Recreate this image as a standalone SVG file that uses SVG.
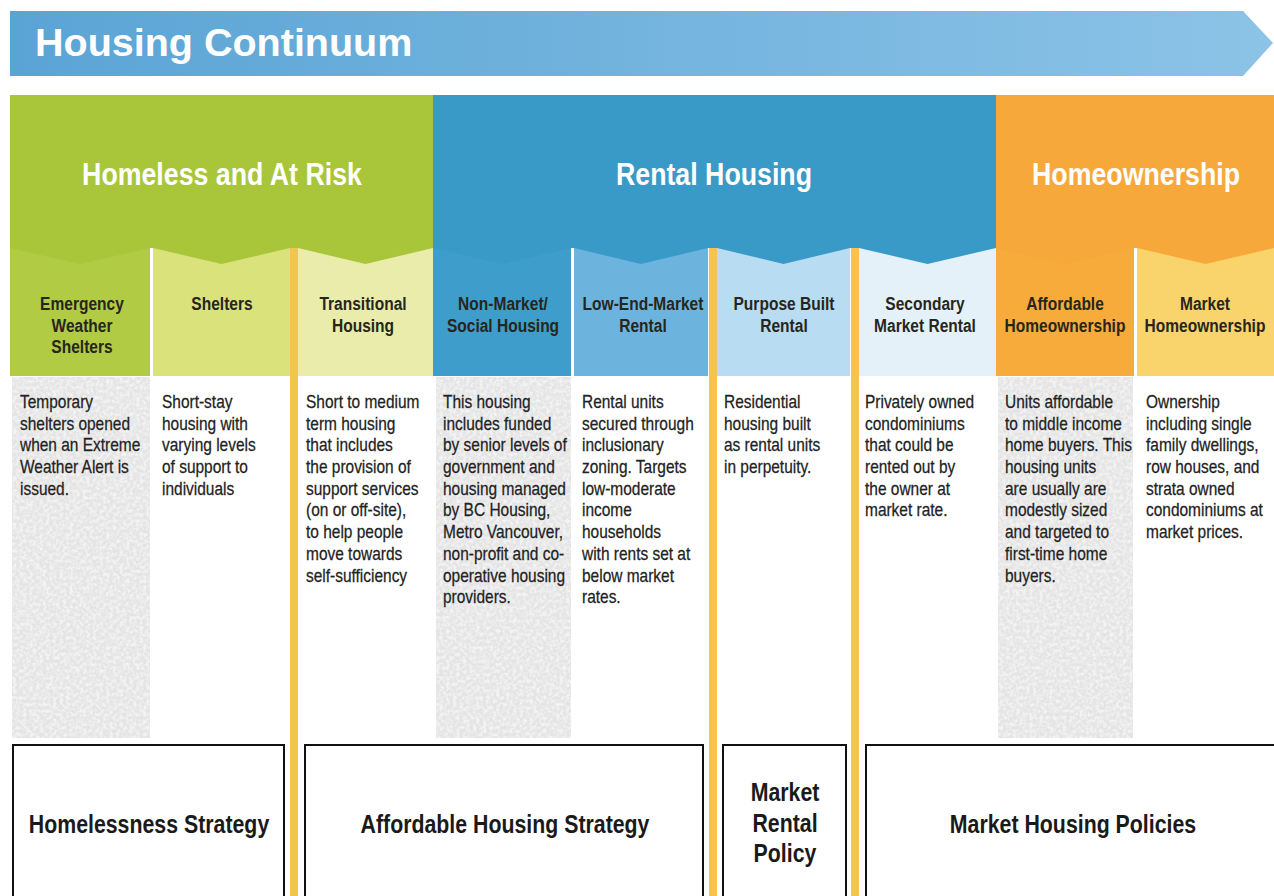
<svg xmlns="http://www.w3.org/2000/svg" width="1274" height="896" viewBox="0 0 1274 896">
<defs>
<linearGradient id="bannerGrad" x1="0" y1="0" x2="1" y2="0">
<stop offset="0" stop-color="#5aa4d5"/>
<stop offset="1" stop-color="#8cc3e7"/>
</linearGradient>
<filter id="speckle" x="0" y="0" width="100%" height="100%">
<feTurbulence type="fractalNoise" baseFrequency="0.3" numOctaves="3" seed="7" result="n"/>
<feColorMatrix in="n" type="matrix" values="0 0 0 0 1  0 0 0 0 1  0 0 0 0 1  0 0 0 -2.5 1.6" result="w"/>
<feComposite in="w" in2="SourceGraphic" operator="in"/>
</filter>
<style>
.title{font-family:"Liberation Sans",Arial,sans-serif;font-weight:bold;font-size:39.5px;fill:#ffffff}
.head{font-family:"Liberation Sans",Arial,sans-serif;font-weight:bold;font-size:31px;fill:#ffffff;text-anchor:middle}
.sub{font-family:"Liberation Sans",Arial,sans-serif;font-weight:bold;font-size:18.5px;fill:#26261c;text-anchor:middle}
.body{font-family:"Liberation Sans",Arial,sans-serif;font-size:18px;fill:#222222;stroke:#222222;stroke-width:0.25}
.pol{font-family:"Liberation Sans",Arial,sans-serif;font-weight:bold;font-size:26px;fill:#1a1a1a;text-anchor:middle}
.box{fill:#ffffff;stroke:#111111;stroke-width:2}
.gray{fill:#e4e4e4}
.sep{fill:#f6c44c}
</style>
</defs>
<rect width="1274" height="896" fill="#ffffff"/>

<g id="banner">
<polygon points="10,11 1243,11 1273,43 1243,76 10,76" fill="url(#bannerGrad)"/>
<text class="title" x="35" y="56">Housing Continuum</text>
</g>

<g id="subcolumns">
<g id="col-emergency">
<rect x="10" y="248" width="140" height="128" fill="#b1cb45"/>
<rect class="gray" x="12" y="377" width="138" height="361"/>
<rect x="12" y="377" width="138" height="361" fill="#ffffff" filter="url(#speckle)" opacity="0.6"/>
<g transform="translate(82,0) scale(0.84,1)">
<text class="sub" x="0" y="310">Emergency</text>
<text class="sub" x="0" y="332">Weather</text>
<text class="sub" x="0" y="353">Shelters</text>
</g>
<g transform="translate(20,0) scale(0.86,1)">
<text class="body" x="0" y="408">Temporary</text>
<text class="body" x="0" y="429.7">shelters opened</text>
<text class="body" x="0" y="451.4">when an Extreme</text>
<text class="body" x="0" y="473.1">Weather Alert is</text>
<text class="body" x="0" y="494.8">issued.</text>
</g>
</g>
<g id="col-shelters">
<rect x="153" y="248" width="137" height="128" fill="#dae27b"/>
<g transform="translate(222,0) scale(0.84,1)">
<text class="sub" x="0" y="310">Shelters</text>
</g>
<g transform="translate(162,0) scale(0.86,1)">
<text class="body" x="0" y="408">Short-stay</text>
<text class="body" x="0" y="429.7">housing with</text>
<text class="body" x="0" y="451.4">varying levels</text>
<text class="body" x="0" y="473.1">of support to</text>
<text class="body" x="0" y="494.8">individuals</text>
</g>
</g>
<g id="col-transitional">
<rect x="298" y="248" width="135" height="128" fill="#e9ecaa"/>
<g transform="translate(363,0) scale(0.84,1)">
<text class="sub" x="0" y="310">Transitional</text>
<text class="sub" x="0" y="332">Housing</text>
</g>
<g transform="translate(306,0) scale(0.86,1)">
<text class="body" x="0" y="408">Short to medium</text>
<text class="body" x="0" y="429.7">term housing</text>
<text class="body" x="0" y="451.4">that includes</text>
<text class="body" x="0" y="473.1">the provision of</text>
<text class="body" x="0" y="494.8">support services</text>
<text class="body" x="0" y="516.5">(on or off-site),</text>
<text class="body" x="0" y="538.2">to help people</text>
<text class="body" x="0" y="559.9">move towards</text>
<text class="body" x="0" y="581.6">self-sufficiency</text>
</g>
</g>
<g id="col-nonmarket">
<rect x="433" y="248" width="138" height="128" fill="#3e9dca"/>
<rect class="gray" x="436" y="377" width="135" height="361"/>
<rect x="436" y="377" width="135" height="361" fill="#ffffff" filter="url(#speckle)" opacity="0.6"/>
<g transform="translate(503,0) scale(0.84,1)">
<text class="sub" x="0" y="310">Non-Market/</text>
<text class="sub" x="0" y="332">Social Housing</text>
</g>
<g transform="translate(443,0) scale(0.86,1)">
<text class="body" x="0" y="408">This housing</text>
<text class="body" x="0" y="429.7">includes funded</text>
<text class="body" x="0" y="451.4">by senior levels of</text>
<text class="body" x="0" y="473.1">government and</text>
<text class="body" x="0" y="494.8">housing managed</text>
<text class="body" x="0" y="516.5">by BC Housing,</text>
<text class="body" x="0" y="538.2">Metro Vancouver,</text>
<text class="body" x="0" y="559.9">non-profit and co-</text>
<text class="body" x="0" y="581.6">operative housing</text>
<text class="body" x="0" y="603.3">providers.</text>
</g>
</g>
<g id="col-lowend">
<rect x="574" y="248" width="134" height="128" fill="#6cb4dd"/>
<g transform="translate(643,0) scale(0.84,1)">
<text class="sub" x="0" y="310">Low-End-Market</text>
<text class="sub" x="0" y="332">Rental</text>
</g>
<g transform="translate(582,0) scale(0.86,1)">
<text class="body" x="0" y="408">Rental units</text>
<text class="body" x="0" y="429.7">secured through</text>
<text class="body" x="0" y="451.4">inclusionary</text>
<text class="body" x="0" y="473.1">zoning. Targets</text>
<text class="body" x="0" y="494.8">low-moderate</text>
<text class="body" x="0" y="516.5">income</text>
<text class="body" x="0" y="538.2">households</text>
<text class="body" x="0" y="559.9">with rents set at</text>
<text class="body" x="0" y="581.6">below market</text>
<text class="body" x="0" y="603.3">rates.</text>
</g>
</g>
<g id="col-purposebuilt">
<rect x="717" y="248" width="133" height="128" fill="#b8dcf1"/>
<g transform="translate(784,0) scale(0.84,1)">
<text class="sub" x="0" y="310">Purpose Built</text>
<text class="sub" x="0" y="332">Rental</text>
</g>
<g transform="translate(724,0) scale(0.86,1)">
<text class="body" x="0" y="408">Residential</text>
<text class="body" x="0" y="429.7">housing built</text>
<text class="body" x="0" y="451.4">as rental units</text>
<text class="body" x="0" y="473.1">in perpetuity.</text>
</g>
</g>
<g id="col-secondary">
<rect x="859" y="248" width="137" height="128" fill="#e5f1f9"/>
<g transform="translate(925,0) scale(0.84,1)">
<text class="sub" x="0" y="310">Secondary</text>
<text class="sub" x="0" y="332">Market Rental</text>
</g>
<g transform="translate(865,0) scale(0.86,1)">
<text class="body" x="0" y="408">Privately owned</text>
<text class="body" x="0" y="429.7">condominiums</text>
<text class="body" x="0" y="451.4">that could be</text>
<text class="body" x="0" y="473.1">rented out by</text>
<text class="body" x="0" y="494.8">the owner at</text>
<text class="body" x="0" y="516.5">market rate.</text>
</g>
</g>
<g id="col-affordable">
<rect x="996" y="248" width="138" height="128" fill="#f6ab3b"/>
<rect class="gray" x="998" y="377" width="135" height="361"/>
<rect x="998" y="377" width="135" height="361" fill="#ffffff" filter="url(#speckle)" opacity="0.6"/>
<g transform="translate(1065,0) scale(0.84,1)">
<text class="sub" x="0" y="310">Affordable</text>
<text class="sub" x="0" y="332">Homeownership</text>
</g>
<g transform="translate(1005,0) scale(0.86,1)">
<text class="body" x="0" y="408">Units affordable</text>
<text class="body" x="0" y="429.7">to middle income</text>
<text class="body" x="0" y="451.4">home buyers. This</text>
<text class="body" x="0" y="473.1">housing units</text>
<text class="body" x="0" y="494.8">are usually are</text>
<text class="body" x="0" y="516.5">modestly sized</text>
<text class="body" x="0" y="538.2">and targeted to</text>
<text class="body" x="0" y="559.9">first-time home</text>
<text class="body" x="0" y="581.6">buyers.</text>
</g>
</g>
<g id="col-market">
<rect x="1137" y="248" width="137" height="128" fill="#f9d36c"/>
<g transform="translate(1205,0) scale(0.84,1)">
<text class="sub" x="0" y="310">Market</text>
<text class="sub" x="0" y="332">Homeownership</text>
</g>
<g transform="translate(1146,0) scale(0.86,1)">
<text class="body" x="0" y="408">Ownership</text>
<text class="body" x="0" y="429.7">including single</text>
<text class="body" x="0" y="451.4">family dwellings,</text>
<text class="body" x="0" y="473.1">row houses, and</text>
<text class="body" x="0" y="494.8">strata owned</text>
<text class="body" x="0" y="516.5">condominiums at</text>
<text class="body" x="0" y="538.2">market prices.</text>
</g>
</g>
</g>

<g id="separators">
<rect class="sep" x="290" y="248" width="8" height="648"/>
<rect class="sep" x="709" y="248" width="8" height="648"/>
<rect class="sep" x="851" y="248" width="8" height="648"/>
</g>

<g id="head-homeless">
<polygon points="10,95 433,95 433,248 365.5,264 298,248 290,248 221.5,264 153,248 150,248 80,264 10,248" fill="#a9c63b"/>
<g transform="translate(222,0) scale(0.863,1)">
<text class="head" x="0" y="185">Homeless and At Risk</text>
</g>
</g>
<g id="head-rental">
<polygon points="433,95 996,95 996,248 927.5,264 859,248 850,248 783.5,264 717,248 708,248 641,264 574,248 571,248 502,264 433,248" fill="#3a9ac7"/>
<g transform="translate(714,0) scale(0.863,1)">
<text class="head" x="0" y="185">Rental Housing</text>
</g>
</g>
<g id="head-homeownership">
<polygon points="996,95 1274,95 1274,248 1205.5,264 1137,248 1134,248 1065,264 996,248" fill="#f6a93a"/>
<g transform="translate(1136,0) scale(0.863,1)">
<text class="head" x="0" y="185">Homeownership</text>
</g>
</g>

<g id="policies">
<g id="policy-homelessness">
<rect class="box" x="13" y="745" width="271" height="170"/>
<g transform="translate(149,0) scale(0.82,1)">
<text class="pol" x="0" y="833">Homelessness Strategy</text>
</g>
</g>
<g id="policy-affordable">
<rect class="box" x="305" y="745" width="398" height="170"/>
<g transform="translate(505,0) scale(0.82,1)">
<text class="pol" x="0" y="833">Affordable Housing Strategy</text>
</g>
</g>
<g id="policy-marketrental">
<rect class="box" x="723" y="745" width="123" height="170"/>
<g transform="translate(785,0) scale(0.82,1)">
<text class="pol" x="0" y="801">Market</text>
<text class="pol" x="0" y="832">Rental</text>
<text class="pol" x="0" y="862">Policy</text>
</g>
</g>
<g id="policy-markethousing">
<rect class="box" x="866" y="745" width="420" height="170"/>
<g transform="translate(1073,0) scale(0.82,1)">
<text class="pol" x="0" y="833">Market Housing Policies</text>
</g>
</g>
</g>
</svg>
